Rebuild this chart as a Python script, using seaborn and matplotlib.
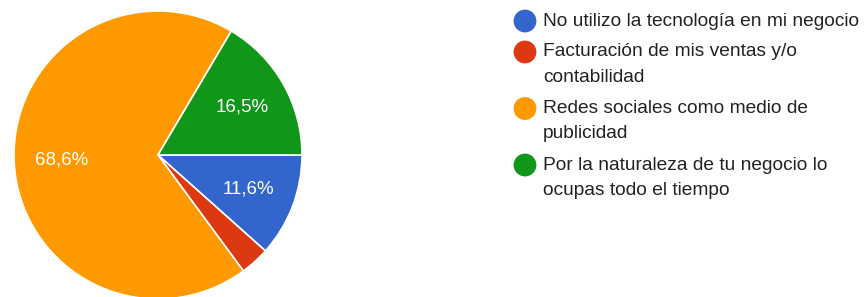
import matplotlib
matplotlib.use("Agg")
import matplotlib.pyplot as plt
import seaborn as sns

categories = [
    "No utilizo la tecnología en mi negocio",
    "Facturación de mis ventas y/o\ncontabilidad",
    "Redes sociales como medio de\npublicidad",
    "Por la naturaleza de tu negocio lo\nocupas todo el tiempo",
]
percentages = [11.6, 3.3, 68.6, 16.5]
colors = ["#3366cc", "#dc3912", "#ff9900", "#109618"]

sns.set_theme(style="white")
plt.rcParams["font.family"] = ["Liberation Sans", "DejaVu Sans"]

W, H = 868, 297
fig = plt.figure(figsize=(W / 100, H / 100), dpi=100)

# pie axes: center ~ (158,155) px, radius ~144 px
r = 144
cx, cy = 158, 155
ax = fig.add_axes([(cx - r) / W, (H - cy - r) / H, 2 * r / W, 2 * r / H])


def fmt(p):
    return "" if p < 5 else f"{p:.1f}%".replace(".", ",")


wedges, texts, autotexts = ax.pie(
    percentages,
    colors=sns.color_palette(colors),
    startangle=0,
    counterclock=False,
    autopct=fmt,
    pctdistance=0.67,
    wedgeprops=dict(edgecolor="white", linewidth=1.2),
    textprops=dict(color="white", fontsize=13.5),
)
ax.set_xlim(-1, 1)
ax.set_ylim(-1, 1)
ax.set_aspect("equal")
ax.axis("off")

# legend drawn in pixel coords
lg = fig.add_axes([0, 0, 1, 1])
lg.set_xlim(0, W)
lg.set_ylim(H, 0)
lg.axis("off")
lg.patch.set_alpha(0)

y = 21
for label, col in zip(categories, colors):
    lg.scatter([525], [y], s=270, color=col, edgecolor="none")
    for i, line in enumerate(label.split("\n")):
        lg.text(543, y + i * 25.5, line, va="center", ha="left",
                fontsize=13.8, color="#222222")
    y += (label.count("\n")) * 25.5 + 31

fig.savefig("out.png", dpi=100)
